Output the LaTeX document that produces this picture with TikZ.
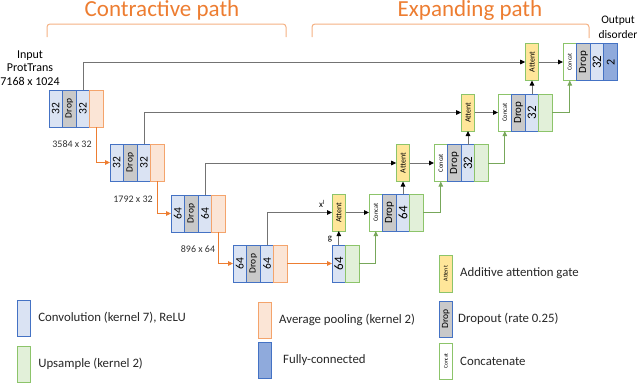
\documentclass[tikz,border=0pt]{standalone}
\usepackage{fontspec}
\setmainfont{Carlito}
\usepackage{graphicx}
\usetikzlibrary{positioning,arrows.meta}

\definecolor{convfill}{HTML}{DAE3F3}
\definecolor{convline}{HTML}{4472C4}
\definecolor{dropfill}{HTML}{C9C9C9}
\definecolor{poolfill}{HTML}{FBE5D6}
\definecolor{poolline}{HTML}{F4A46C}
\definecolor{upfill}{HTML}{E2F0D9}
\definecolor{upline}{HTML}{8CC46A}
\definecolor{attfill}{HTML}{FFE699}
\definecolor{fcfill}{HTML}{8FAADC}
\definecolor{pathorange}{HTML}{ED7D31}
\definecolor{bracecol}{HTML}{F4B183}
\definecolor{skipgray}{HTML}{737373}

\newcommand{\vtext}[1]{\rotatebox{90}{#1}}

\tikzset{
  cell/.style={draw, line width=0.8pt, minimum width=13.6pt, minimum height=37pt,
    inner sep=0pt, outer sep=0pt},
  conv/.style={cell, draw=convline, fill=convfill, font=\fontsize{11.5}{12}\selectfont},
  drop/.style={cell, draw=convline, fill=dropfill, font=\fontsize{9.5}{10}\selectfont},
  pool/.style={cell, draw=poolline, fill=poolfill},
  upsmp/.style={cell, draw=upline, fill=upfill},
  concat/.style={cell, draw=upline, fill=white, font=\fontsize{6.5}{7}\selectfont},
  attent/.style={cell, draw=upline, fill=attfill, font=\fontsize{8}{8}\selectfont},
  fc/.style={cell, draw=convline, fill=fcfill, font=\fontsize{12}{12}\selectfont},
  big/.style={font=\fontsize{13}{13}\selectfont},
  mid/.style={font=\fontsize{11}{11}\selectfont},
  skipline/.style={draw=skipgray, line width=0.9pt,
    -{Triangle[length=5pt,width=4.5pt,color=black]}},
  poolarrow/.style={draw=pathorange, line width=0.9pt,
    -{Triangle[length=5pt,width=4.5pt]}},
  uparrow/.style={draw=upline!85!black, line width=0.9pt,
    -{Triangle[length=5pt,width=4.5pt]}},
  dims/.style={font=\fontsize{10}{10}\selectfont, text=black!80},
  title/.style={font=\fontsize{23}{23}\selectfont, text=pathorange},
  brace/.style={draw=bracecol, line width=1pt, rounded corners=3pt},
  legtxt/.style={font=\fontsize{12.8}{14}\selectfont, inner sep=0pt, text=black!85}
}

\begin{document}
\begin{tikzpicture}[x=1pt, y=-1pt]
  \useasboundingbox (0,0) rectangle (640,383);

  \node[title] (contr) at (162,10) {Contractive path};
  \node[title] (expand) at (470,10) {Expanding path};
  \draw[brace] (47,37) -- (47,24) -- (286,24) -- (286,37);
  \draw[brace] (312,37) -- (312,24) -- (589,24) -- (589,38);

  \node[align=center, font=\fontsize{12}{13.5}\selectfont] (input) at (30,68)
    {Input\\ProtTrans\\7168 x 1024};
  \node[align=center, font=\fontsize{11.5}{15}\selectfont] (output) at (618,27)
    {Output\\disorder};

  \node[conv, anchor=north west] (c11) at (49,90) {\vtext{32}};
  \node[drop, right=0pt of c11] (d1) {\vtext{Drop}};
  \node[conv, right=0pt of d1] (c12) {\vtext{32}};
  \node[pool, right=0pt of c12] (p1) {};

  \node[conv, anchor=north west] (c21) at (110,144) {\vtext{32}};
  \node[drop, right=0pt of c21] (d2) {\vtext{Drop}};
  \node[conv, right=0pt of d2] (c22) {\vtext{32}};
  \node[pool, right=0pt of c22] (p2) {};

  \node[conv, anchor=north west] (c31) at (171,195) {\vtext{64}};
  \node[drop, right=0pt of c31] (d3) {\vtext{Drop}};
  \node[conv, right=0pt of d3] (c32) {\vtext{64}};
  \node[pool, right=0pt of c32] (p3) {};

  \node[conv, anchor=north west] (c41) at (233,245) {\vtext{64}};
  \node[drop, right=0pt of c41] (d4) {\vtext{Drop}};
  \node[conv, right=0pt of d4] (c42) {\vtext{64}};
  \node[pool, right=0pt of c42] (p4) {};

  \node[dims] (dim1) at (72,144) {3584 x 32};
  \node[dims] (dim2) at (133,199) {1792 x 32};
  \node[dims] (dim3) at (198,249) {896 x 64};

  \node[conv, big, anchor=north west] (b1) at (332,245) {\vtext{64}};
  \node[upsmp, right=0pt of b1] (u5) {};

  \node[attent, anchor=north west] (a4) at (332,194) {\vtext{Attent}};
  \node[concat, anchor=north west] (k4) at (369,194) {\vtext{Concat}};
  \node[drop, mid, right=0pt of k4] (dd4) {\vtext{Drop}};
  \node[conv, big, right=0pt of dd4] (cd4) {\vtext{64}};
  \node[upsmp, right=0pt of cd4] (u4) {};

  \node[attent, anchor=north west] (a3) at (396.2,144.5) {\vtext{Attent}};
  \node[concat, anchor=north west] (k3) at (434,144.5) {\vtext{Concat}};
  \node[drop, mid, right=0pt of k3] (dd3) {\vtext{Drop}};
  \node[conv, big, right=0pt of dd3] (cd3) {\vtext{32}};
  \node[upsmp, right=0pt of cd3] (u3) {};

  \node[attent, anchor=north west] (a2) at (461.2,94) {\vtext{Attent}};
  \node[concat, anchor=north west] (k2) at (498,94) {\vtext{Concat}};
  \node[drop, mid, right=0pt of k2] (dd2) {\vtext{Drop}};
  \node[conv, big, right=0pt of dd2] (cd2) {\vtext{32}};
  \node[upsmp, right=0pt of cd2] (u2) {};

  \node[attent, anchor=north west] (a1) at (525.2,43.5) {\vtext{Attent}};
  \node[concat, font=\fontsize{6}{6}\selectfont, anchor=north west] (k1) at (563,43.5) {\vtext{Concat}};
  \node[drop, mid, right=0pt of k1] (dd1) {\vtext{Drop}};
  \node[conv, big, right=0pt of dd1] (cd1) {\vtext{32}};
  \node[fc, right=0pt of cd1] (fc1) {\vtext{2}};

  \node[font=\fontsize{9}{9}\selectfont] (xl) at (322,204) {x\textsuperscript{l}};
  \node[font=\fontsize{9}{9}\selectfont] (gl) at (330,239) {g};

  \draw[poolarrow] (p1.south) |- (c21.west);
  \draw[poolarrow] (p2.south) |- (c31.west);
  \draw[poolarrow] (p3.south) |- (c41.west);
  \draw[poolarrow] (p4.east) -- (b1.west);

  \draw[skipline] (c12.north) |- (a1.west);
  \draw[skipline] (c22.north) |- (a2.west);
  \draw[skipline] (c32.north) |- (a3.west);
  \draw[skipline] (c42.north) |- (a4.west);

  \draw[skipline] (a4.east) -- (k4.west);
  \draw[skipline] (a3.east) -- (k3.west);
  \draw[skipline] (a2.east) -- (k2.west);
  \draw[skipline] (a1.east) -- (k1.west);

  \draw[skipline] (b1.north) -- (a4.south);
  \draw[skipline] (cd4.north) -- (a3.south);
  \draw[skipline] (cd3.north) -- (a2.south);
  \draw[skipline] (cd2.north) -- (a1.south);

  \draw[uparrow] (u5.east) -| (k4.south);
  \draw[uparrow] (u4.east) -| (k3.south);
  \draw[uparrow] (u3.east) -| (k2.south);
  \draw[uparrow] (u2.east) -| (k1.south);

  \node[conv, anchor=north west, minimum height=36pt] (lconv) at (17,300) {};
  \node[legtxt, right=7.5pt of lconv] (tconv) {Convolution (kernel 7), ReLU};
  \node[upsmp, anchor=north west, minimum height=36pt] (lup) at (17,346) {};
  \node[legtxt, right=7.5pt of lup] (tup) {Upsample (kernel 2)};
  \node[pool, anchor=north west, minimum height=36pt] (lpool) at (258,302) {};
  \node[legtxt, right=7.4pt of lpool] (tpool) {Average pooling (kernel 2)};
  \node[fc, anchor=north west, minimum height=36pt] (lfc) at (258,342) {};
  \node[legtxt, right=11.4pt of lfc] (tfc) {Fully-connected};
  \node[attent, font=\fontsize{6}{6}\selectfont, anchor=north west] (latt) at (439,255) {\vtext{Attent}};
  \node[legtxt, right=7.4pt of latt] (tatt) {Additive attention gate};
  \node[drop, anchor=north west, minimum height=36pt] (ldrop) at (439,301) {\vtext{Drop}};
  \node[legtxt, right=5.4pt of ldrop] (tdrop) {Dropout (rate 0.25)};
  \node[concat, font=\fontsize{5.5}{6}\selectfont, anchor=north west, minimum height=36pt] (lcat) at (439,343) {\vtext{Concat}};
  \node[legtxt, right=7.4pt of lcat] (tcat) {Concatenate};
\end{tikzpicture}
\end{document}
